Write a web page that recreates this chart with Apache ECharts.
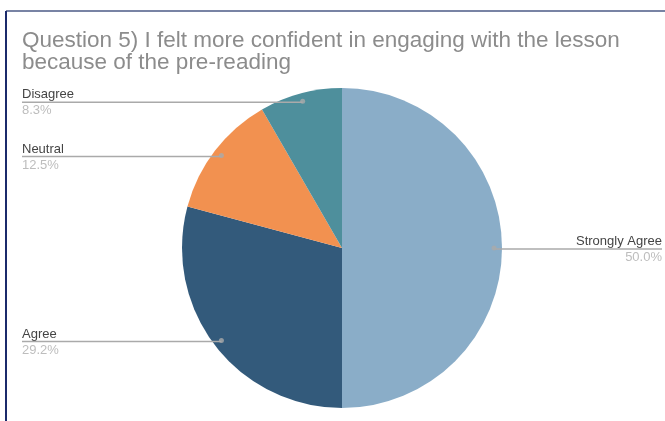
<!DOCTYPE html>
<html>
<head>
<meta charset="utf-8">
<script src="https://cdn.jsdelivr.net/npm/echarts@6/dist/echarts.min.js"></script>
<style>
  html, body { margin: 0; padding: 0; background: #fff; }
  #main { width: 665px; height: 421px; }
</style>
</head>
<body>
<div id="main"></div>
<script>
var categories = ['Strongly Agree', 'Agree', 'Neutral', 'Disagree'];
var counts = [12, 7, 3, 2];
var colors = ['#8aadc8', '#335a7b', '#f29150', '#4e8f9c'];

var cx = 342, cy = 248, R = 160;
var total = counts.reduce(function (a, b) { return a + b; }, 0);

// midpoints of each slice, for the small dots on the leader lines
var mids = [];
var acc = 0;
counts.forEach(function (v) {
  mids.push([0.95, acc + v / 2]);
  acc += v;
});

var pieData = categories.map(function (c, i) {
  return { name: c, value: counts[i], itemStyle: { color: colors[i] } };
});

var myChart = echarts.init(document.getElementById('main'));
var option = {
  backgroundColor: '#fff',
  animation: false,
  title: {
    text: 'Question 5) I felt more confident in engaging with the lesson\nbecause of the pre-reading',
    left: 22,
    top: 30,
    padding: 0,
    textStyle: {
      fontFamily: 'Liberation Sans',
      fontSize: 22.5,
      fontWeight: 'normal',
      color: '#8c8c8c',
      lineHeight: 22
    }
  },
  graphic: [
    { type: 'line', shape: { x1: 6, y1: 11, x2: 665, y2: 11 }, style: { stroke: '#4b5a86', lineWidth: 1.5 } },
    { type: 'line', shape: { x1: 6, y1: 11, x2: 6, y2: 421 }, style: { stroke: '#1b2a6b', lineWidth: 2 } }
  ],
  polar: { center: [cx, cy], radius: R },
  angleAxis: { type: 'value', min: 0, max: total, startAngle: 90, clockwise: true, show: false },
  radiusAxis: { type: 'value', min: 0, max: 1, show: false },
  series: [
    {
      type: 'pie',
      center: [cx, cy],
      radius: R,
      startAngle: 90,
      clockwise: true,
      silent: true,
      data: pieData,
      itemStyle: { borderWidth: 0 },
      label: { show: false },
      labelLine: { show: false }
    },
    {
      // transparent copy on top that only carries the labels and leader lines
      type: 'pie',
      z: 4,
      center: [cx, cy],
      radius: R,
      startAngle: 90,
      clockwise: true,
      silent: true,
      avoidLabelOverlap: false,
      data: categories.map(function (c, i) {
        return { name: c, value: counts[i], itemStyle: { color: 'rgba(0,0,0,0)' } };
      }),
      label: {
        show: true,
        position: 'outside',
        fontFamily: 'Liberation Sans',
        formatter: function (p) {
          return '{n|' + p.name + '}\n{p|' + p.percent.toFixed(1) + '%}';
        },
        rich: {
          n: { fontSize: 13, color: '#444', lineHeight: 16, fontFamily: 'Liberation Sans' },
          p: { fontSize: 13, color: '#bdbdbd', lineHeight: 16, fontFamily: 'Liberation Sans' }
        }
      },
      labelLine: { show: true, length: 10, length2: 10, smooth: false, lineStyle: { color: '#aaa', width: 1.5 } },
      labelLayout: function (params) {
        var p0 = params.labelLinePoints[0];
        var ax = cx + (p0[0] - cx) * 0.95;
        var ay = cy + (p0[1] - cy) * 0.95;
        var left = ax < cx;
        var ex = left ? 22 : 662;
        return {
          x: ex,
          y: ay + 1.5,
          align: left ? 'left' : 'right',
          verticalAlign: 'middle',
          labelLinePoints: [[ax, ay + 1], [ax, ay + 1], [ex, ay + 1]]
        };
      }
    },
    {
      type: 'scatter',
      coordinateSystem: 'polar',
      symbolSize: 5,
      itemStyle: { color: '#aaa' },
      silent: true,
      z: 5,
      data: mids
    }
  ]
};
myChart.setOption(option);

window.onresize = function () {
  myChart.resize();
};
</script>
</body>
</html>
